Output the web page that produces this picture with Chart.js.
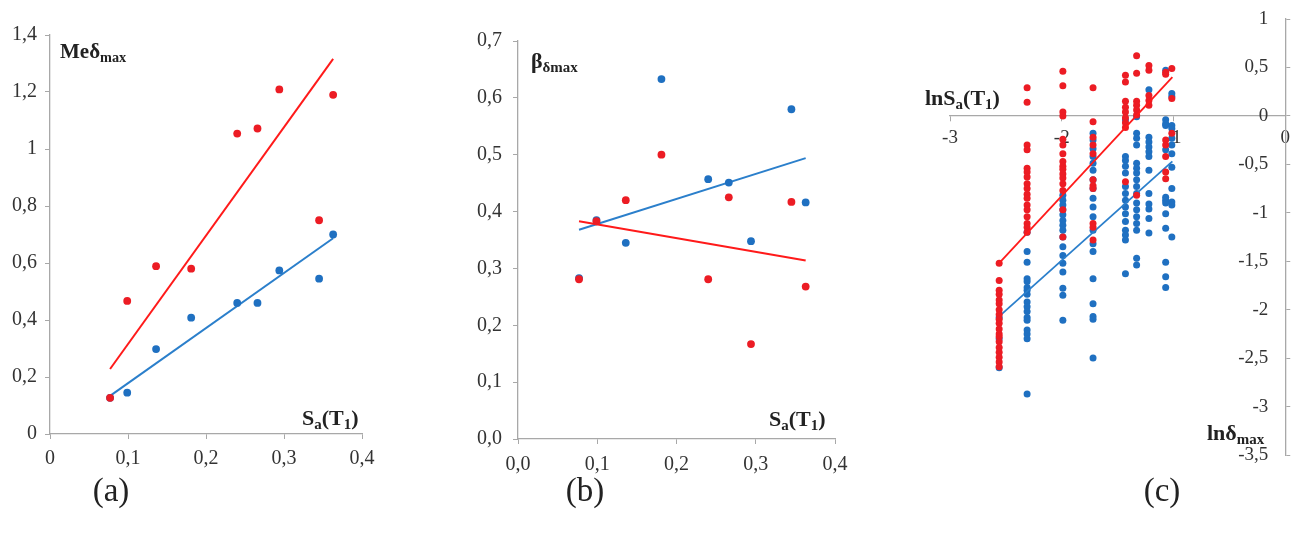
<!DOCTYPE html>
<html>
<head>
<meta charset="utf-8">
<script src="https://cdn.jsdelivr.net/npm/chart.js@4.4.0/dist/chart.umd.min.js"></script>
<style>
  body { margin: 0; background: #fff; }
  #page { position: relative; width: 1296px; height: 535px; overflow: hidden; font-family: "Liberation Serif", "Times New Roman", serif; }
  canvas { position: absolute; top: 0; }
  .ttl { position: absolute; font-weight: bold; color: #222; white-space: nowrap; line-height: 1; }
  .ttl sub { font-size: 0.68em; vertical-align: baseline; position: relative; top: 0.3em; }
  .pan { position: absolute; font-size: 33px; line-height: 1; color: #222; transform: translateX(-50%); }
</style>
</head>
<body>
<div id="page">
  <canvas id="chartA" width="400" height="480" style="left:0px"></canvas>
  <canvas id="chartB" width="440" height="480" style="left:420px"></canvas>
  <canvas id="chartC" width="396" height="480" style="left:900px"></canvas>

  <div class="ttl" style="left:60px;top:41px;font-size:21px">Meδ<sub>max</sub></div>
  <div class="ttl" style="left:302px;top:407px;font-size:22px">S<sub>a</sub>(T<sub>1</sub>)</div>
  <div class="ttl" style="left:531px;top:50px;font-size:22px">β<sub>δmax</sub></div>
  <div class="ttl" style="left:769px;top:408px;font-size:22px">S<sub>a</sub>(T<sub>1</sub>)</div>
  <div class="ttl" style="left:925px;top:87px;font-size:22px">lnS<sub>a</sub>(T<sub>1</sub>)</div>
  <div class="ttl" style="left:1207px;top:422px;font-size:22px">lnδ<sub>max</sub></div>

  <div class="pan" style="left:111px;top:474px">(a)</div>
  <div class="pan" style="left:585px;top:474px">(b)</div>
  <div class="pan" style="left:1162px;top:474px">(c)</div>
</div>

<script>
// valeurs Sa(T1) communes aux panneaux (a) et (b)
const saValues = [0.077, 0.099, 0.136, 0.181, 0.240, 0.266, 0.294, 0.345, 0.363];

// (a) mediane de delta max
const medRed  = [0.127, 0.467, 0.589, 0.580, 1.054, 1.072, 1.209, 0.750, 1.190];
const medBlue = [0.127, 0.145, 0.298, 0.408, 0.460, 0.460, 0.574, 0.545, 0.700];
const medRedFit  = [0.228, 1.316];
const medBlueFit = [0.134, 0.687];

// (b) dispersion beta
const betaRed  = [0.281, 0.383, 0.420, 0.500, 0.281, 0.425, 0.167, 0.417, 0.268];
const betaBlue = [0.283, 0.385, 0.345, 0.633, 0.457, 0.451, 0.348, 0.580, 0.416];
const betaRedFit  = [0.383, 0.314];
const betaBlueFit = [0.368, 0.494];

// extremites des droites de regression (a) et (b)
const fitX = [0.077, 0.363];

// (c) nuage ln : colonnes lnSa(T1) et valeurs ln(delta max) par colonne
const lnSaCols = [-2.56, -2.31, -1.99, -1.72, -1.43, -1.33, -1.22, -1.07, -1.015];
const lnRed = [
  [-1.52, -1.70, -1.80, -1.84, -1.90, -1.94, -2.00, -2.05, -2.10, -2.14, -2.20, -2.25, -2.28, -2.33, -2.39, -2.44, -2.49, -2.54, -2.59],
  [0.29, 0.14, -0.30, -0.35, -0.54, -0.58, -0.63, -0.70, -0.75, -0.81, -0.85, -0.92, -0.97, -1.04, -1.11, -1.15, -1.20],
  [0.46, 0.31, 0.04, 0.00, -0.24, -0.30, -0.39, -0.47, -0.52, -0.55, -0.60, -0.64, -0.70, -0.77, -0.97, -1.25],
  [0.29, -0.06, -0.22, -0.30, -0.39, -0.66, -0.72, -0.75, -1.11, -1.15, -1.28],
  [0.42, 0.35, 0.15, 0.09, 0.04, -0.02, -0.07, -0.12, -0.68],
  [0.62, 0.44, 0.15, 0.11, 0.06, 0.01, -0.82],
  [0.52, 0.47, 0.21, 0.16, 0.11],
  [0.45, 0.43, -0.25, -0.30, -0.42, -0.58, -0.65],
  [0.49, 0.18, -0.18]
];
const lnBlue = [
  [-2.08, -2.30, -2.60],
  [-1.20, -1.40, -1.51, -1.68, -1.71, -1.77, -1.80, -1.84, -1.92, -1.97, -2.02, -2.08, -2.11, -2.21, -2.25, -2.30, -2.87],
  [-0.82, -0.87, -0.92, -0.97, -1.02, -1.08, -1.13, -1.18, -1.25, -1.35, -1.44, -1.52, -1.61, -1.78, -1.85, -2.11],
  [-0.18, -0.25, -0.34, -0.42, -0.49, -0.56, -0.66, -0.75, -0.85, -0.94, -1.04, -1.18, -1.32, -1.40, -1.68, -1.94, -2.07, -2.10, -2.50],
  [-0.04, -0.42, -0.46, -0.52, -0.59, -0.73, -0.80, -0.87, -0.94, -1.01, -1.09, -1.18, -1.23, -1.28, -1.63],
  [-0.01, -0.18, -0.23, -0.30, -0.49, -0.54, -0.59, -0.66, -0.73, -0.80, -0.90, -0.97, -1.04, -1.11, -1.18, -1.47, -1.54],
  [0.27, -0.22, -0.27, -0.32, -0.37, -0.42, -0.56, -0.80, -0.91, -0.96, -1.06, -1.21],
  [0.47, -0.04, -0.08, -0.10, -0.35, -0.84, -0.87, -0.90, -1.01, -1.16, -1.51, -1.66, -1.77],
  [0.23, 0.20, -0.10, -0.13, -0.23, -0.30, -0.39, -0.53, -0.75, -0.89, -0.92, -1.25]
];
const lnFitX = [-2.56, -1.01];
const lnRedFit  = [-1.52, 0.40];
const lnBlueFit = [-2.07, -0.47];

const RED = '#ec1c24', RED_LINE = '#ff1a1a';
const BLUE = '#1f70c1', BLUE_LINE = '#2b7fcb';
const AXIS = '#a8a8a8', TXT = '#333';
const FONT = 'Liberation Serif';

const pts = (xs, ys) => xs.map((x, i) => ({ x, y: ys[i] }));
const comma = v => String(Math.round(v * 10) / 10).replace('.', ',');
const comma1 = v => v.toFixed(1).replace('.', ',');

function dots(data, color, r) {
  return { type: 'scatter', data, backgroundColor: color, borderColor: color, pointRadius: r, pointHoverRadius: r, borderWidth: 0 };
}
function fit(data, color, w) {
  return { type: 'line', data, borderColor: color, borderWidth: w, pointRadius: 0, fill: false, tension: 0 };
}
function axis(min, max, step, fmt, size, pad, extra) {
  return Object.assign({
    type: 'linear', min, max,
    ticks: { stepSize: step, callback: fmt, color: TXT, padding: pad, font: { family: FONT, size } },
    grid: { drawOnChartArea: false, drawTicks: true, tickLength: 5, color: AXIS },
    border: { color: AXIS, width: 1.3 }
  }, extra);
}
const base = padding => ({
  responsive: false, animation: false,
  layout: { padding },
  plugins: { legend: { display: false }, tooltip: { enabled: false } }
});

// (a)
new Chart(document.getElementById('chartA'), {
  type: 'scatter',
  data: { datasets: [
    dots(pts(saValues, medRed), RED, 3.9),
    dots(pts(saValues, medBlue), BLUE, 3.9),
    fit(pts(fitX, medRedFit), RED_LINE, 2),
    fit(pts(fitX, medBlueFit), BLUE_LINE, 2)
  ]},
  options: Object.assign(base({ left: 0, top: 35, right: 38, bottom: 0 }), {
    scales: {
      x: axis(0, 0.4, 0.1, comma, 20, 8, { afterFit: s => { s.height = 46; } }),
      y: axis(0, 1.4, 0.2, comma, 20, 8, { afterFit: s => { s.width = 50; } })
    }
  })
});

// (b)
new Chart(document.getElementById('chartB'), {
  type: 'scatter',
  data: { datasets: [
    dots(pts(saValues, betaRed), RED, 3.9),
    dots(pts(saValues, betaBlue), BLUE, 3.9),
    fit(pts(fitX, betaRedFit), RED_LINE, 2),
    fit(pts(fitX, betaBlueFit), BLUE_LINE, 2)
  ]},
  options: Object.assign(base({ left: 0, top: 41, right: 25, bottom: 0 }), {
    scales: {
      x: axis(0, 0.4, 0.1, comma1, 20, 9, { afterFit: s => { s.height = 41; } }),
      y: axis(0, 0.7, 0.1, comma1, 20, 11, { afterFit: s => { s.width = 98; } })
    }
  })
});

// (c)
const cRed = lnSaCols.flatMap((x, i) => lnRed[i].map(y => ({ x, y })));
const cBlue = lnSaCols.flatMap((x, i) => lnBlue[i].map(y => ({ x, y })));
new Chart(document.getElementById('chartC'), {
  type: 'scatter',
  data: { datasets: [
    fit(pts(lnFitX, lnRedFit), RED_LINE, 1.8),
    dots(cRed, RED, 3.5),
    fit(pts(lnFitX, lnBlueFit), BLUE_LINE, 1.8),
    dots(cBlue, BLUE, 3.5)
  ]},
  options: Object.assign(base({ left: 50, top: 19, right: 0, bottom: 25 }), {
    scales: {
      x: axis(-3, 0, 1, comma, 19, 6, { position: { y: 0 } }),
      y: axis(-3.5, 1, 0.5, comma, 19, -17, { position: 'right', ticks: { stepSize: 0.5, callback: comma, color: TXT, padding: -17, mirror: true, font: { family: FONT, size: 19 } }, afterFit: s => { s.width = 10; } })
    }
  })
});
</script>
</body>
</html>
